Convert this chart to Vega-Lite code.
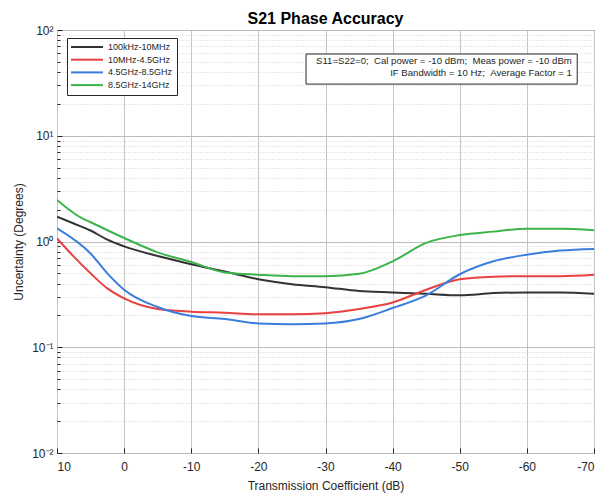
{
  "$schema": "https://vega.github.io/schema/vega-lite/v6.json",
  "width": 537,
  "height": 423,
  "autosize": {"type": "none"},
  "padding": {"left": 57, "top": 30, "right": 11, "bottom": 42},
  "background": "white",
  "config": {"view": {"stroke": "#262626", "strokeWidth": 1}, "font": "Liberation Sans"},
  "title": {"text": "S21 Phase Accuracy", "fontSize": 16, "font": "Liberation Sans", "fontWeight": "bold", "color": "#000", "offset": -3, "frame": "group"},
  "datasets": {
    "curves": [
      {"db": 10, "u": 1.72, "band": "100kHz-10MHz"},
      {"db": 7.5, "u": 1.48, "band": "100kHz-10MHz"},
      {"db": 5, "u": 1.27, "band": "100kHz-10MHz"},
      {"db": 2.5, "u": 1.04, "band": "100kHz-10MHz"},
      {"db": 0, "u": 0.90, "band": "100kHz-10MHz"},
      {"db": -5, "u": 0.73, "band": "100kHz-10MHz"},
      {"db": -10, "u": 0.61, "band": "100kHz-10MHz"},
      {"db": -15, "u": 0.52, "band": "100kHz-10MHz"},
      {"db": -20, "u": 0.44, "band": "100kHz-10MHz"},
      {"db": -25, "u": 0.395, "band": "100kHz-10MHz"},
      {"db": -30, "u": 0.37, "band": "100kHz-10MHz"},
      {"db": -35, "u": 0.34, "band": "100kHz-10MHz"},
      {"db": -40, "u": 0.33, "band": "100kHz-10MHz"},
      {"db": -45, "u": 0.32, "band": "100kHz-10MHz"},
      {"db": -50, "u": 0.31, "band": "100kHz-10MHz"},
      {"db": -55, "u": 0.325, "band": "100kHz-10MHz"},
      {"db": -60, "u": 0.33, "band": "100kHz-10MHz"},
      {"db": -65, "u": 0.33, "band": "100kHz-10MHz"},
      {"db": -70, "u": 0.32, "band": "100kHz-10MHz"},
      {"db": 10, "u": 1.07, "band": "10MHz-4.5GHz"},
      {"db": 7.5, "u": 0.72, "band": "10MHz-4.5GHz"},
      {"db": 5, "u": 0.50, "band": "10MHz-4.5GHz"},
      {"db": 2.5, "u": 0.36, "band": "10MHz-4.5GHz"},
      {"db": 0, "u": 0.29, "band": "10MHz-4.5GHz"},
      {"db": -5, "u": 0.23, "band": "10MHz-4.5GHz"},
      {"db": -10, "u": 0.217, "band": "10MHz-4.5GHz"},
      {"db": -15, "u": 0.212, "band": "10MHz-4.5GHz"},
      {"db": -20, "u": 0.205, "band": "10MHz-4.5GHz"},
      {"db": -25, "u": 0.205, "band": "10MHz-4.5GHz"},
      {"db": -30, "u": 0.21, "band": "10MHz-4.5GHz"},
      {"db": -35, "u": 0.23, "band": "10MHz-4.5GHz"},
      {"db": -40, "u": 0.265, "band": "10MHz-4.5GHz"},
      {"db": -45, "u": 0.35, "band": "10MHz-4.5GHz"},
      {"db": -50, "u": 0.44, "band": "10MHz-4.5GHz"},
      {"db": -55, "u": 0.465, "band": "10MHz-4.5GHz"},
      {"db": -60, "u": 0.47, "band": "10MHz-4.5GHz"},
      {"db": -65, "u": 0.47, "band": "10MHz-4.5GHz"},
      {"db": -70, "u": 0.485, "band": "10MHz-4.5GHz"},
      {"db": 10, "u": 1.33, "band": "4.5GHz-8.5GHz"},
      {"db": 5, "u": 0.77, "band": "4.5GHz-8.5GHz"},
      {"db": 2.5, "u": 0.50, "band": "4.5GHz-8.5GHz"},
      {"db": 0, "u": 0.35, "band": "4.5GHz-8.5GHz"},
      {"db": -5, "u": 0.24, "band": "4.5GHz-8.5GHz"},
      {"db": -10, "u": 0.197, "band": "4.5GHz-8.5GHz"},
      {"db": -15, "u": 0.185, "band": "4.5GHz-8.5GHz"},
      {"db": -20, "u": 0.168, "band": "4.5GHz-8.5GHz"},
      {"db": -25, "u": 0.165, "band": "4.5GHz-8.5GHz"},
      {"db": -30, "u": 0.168, "band": "4.5GHz-8.5GHz"},
      {"db": -35, "u": 0.185, "band": "4.5GHz-8.5GHz"},
      {"db": -40, "u": 0.235, "band": "4.5GHz-8.5GHz"},
      {"db": -45, "u": 0.31, "band": "4.5GHz-8.5GHz"},
      {"db": -50, "u": 0.49, "band": "4.5GHz-8.5GHz"},
      {"db": -55, "u": 0.65, "band": "4.5GHz-8.5GHz"},
      {"db": -60, "u": 0.75, "band": "4.5GHz-8.5GHz"},
      {"db": -65, "u": 0.82, "band": "4.5GHz-8.5GHz"},
      {"db": -70, "u": 0.85, "band": "4.5GHz-8.5GHz"},
      {"db": 10, "u": 2.47, "band": "8.5GHz-14GHz"},
      {"db": 6.3, "u": 1.66, "band": "8.5GHz-14GHz"},
      {"db": 5, "u": 1.52, "band": "8.5GHz-14GHz"},
      {"db": 0, "u": 1.08, "band": "8.5GHz-14GHz"},
      {"db": -5, "u": 0.79, "band": "8.5GHz-14GHz"},
      {"db": -10, "u": 0.64, "band": "8.5GHz-14GHz"},
      {"db": -15, "u": 0.51, "band": "8.5GHz-14GHz"},
      {"db": -20, "u": 0.485, "band": "8.5GHz-14GHz"},
      {"db": -25, "u": 0.47, "band": "8.5GHz-14GHz"},
      {"db": -30, "u": 0.47, "band": "8.5GHz-14GHz"},
      {"db": -35, "u": 0.495, "band": "8.5GHz-14GHz"},
      {"db": -40, "u": 0.65, "band": "8.5GHz-14GHz"},
      {"db": -45, "u": 0.97, "band": "8.5GHz-14GHz"},
      {"db": -50, "u": 1.15, "band": "8.5GHz-14GHz"},
      {"db": -55, "u": 1.24, "band": "8.5GHz-14GHz"},
      {"db": -60, "u": 1.32, "band": "8.5GHz-14GHz"},
      {"db": -65, "u": 1.32, "band": "8.5GHz-14GHz"},
      {"db": -70, "u": 1.28, "band": "8.5GHz-14GHz"}
    ],
    "box": [{"x1": -27.1, "x2": -67.5, "y1": 59.3, "y2": 30.8}],
    "notes": [
      {"x": -66.7, "y": 50.9, "t": "S11=S22=0; \u00a0Cal power = -10 dBm; \u00a0Meas power = -10 dBm"},
      {"x": -66.7, "y": 39.6, "t": "IF Bandwidth = 10 Hz; \u00a0Average Factor = 1"}
    ]
  },
  "layer": [
    {
      "data": {"name": "curves"},
      "mark": {"type": "line", "strokeWidth": 2, "interpolate": "monotone", "clip": true},
      "encoding": {
        "x": {
          "field": "db", "type": "quantitative",
          "scale": {"domain": [-70, 10], "reverse": true, "nice": false, "zero": false},
          "axis": {
            "values": [10, 0, -10, -20, -30, -40, -50, -60, -70],
            "labelExpr": "'' + datum.value",
            "title": "Transmission Coefficient (dB)",
            "titleFontSize": 12, "titleFontWeight": "normal", "titleColor": "#262626", "titlePadding": 8,
            "labelFontSize": 12, "labelColor": "#262626", "labelPadding": 13,
            "grid": true, "gridColor": "#c4c4c4", "gridWidth": 1,
            "domain": false, "ticks": true, "tickSize": -5, "tickColor": "#262626"
          }
        },
        "y": {
          "field": "u", "type": "quantitative",
          "scale": {"type": "log", "domain": [0.01, 100], "nice": false},
          "axis": {
            "values": [0.01, 0.02, 0.03, 0.04, 0.05, 0.06, 0.07, 0.08, 0.09, 0.1, 0.2, 0.3, 0.4, 0.5, 0.6, 0.7, 0.8, 0.9, 1, 2, 3, 4, 5, 6, 7, 8, 9, 10, 20, 30, 40, 50, 60, 70, 80, 90, 100],
            "labelExpr": "datum.value == 100 ? '10²' : datum.value == 10 ? '10¹' : datum.value == 1 ? '10⁰' : datum.value == 0.1 ? '10⁻¹' : datum.value == 0.01 ? '10⁻²' : ''",
            "title": "Uncertainty (Degrees)",
            "titleFontSize": 12, "titleFontWeight": "normal", "titleColor": "#262626", "titlePadding": 6,
            "labelFontSize": 12, "labelColor": "#262626", "labelPadding": 9,
            "grid": true,
            "gridColor": {"condition": {"test": "indexof([0.01,0.1,1,10,100], datum.value) >= 0", "value": "#bdbdbd"}, "value": "#d0d0d0"},
            "gridDash": {"condition": {"test": "indexof([0.01,0.1,1,10,100], datum.value) >= 0", "value": []}, "value": [1, 2]},
            "domain": false, "ticks": true, "tickColor": "#262626",
            "tickSize": {"condition": {"test": "indexof([0.01,0.1,1,10,100], datum.value) >= 0", "value": -5}, "value": -3}
          }
        },
        "color": {
          "field": "band", "type": "nominal",
          "scale": {"domain": ["100kHz-10MHz", "10MHz-4.5GHz", "4.5GHz-8.5GHz", "8.5GHz-14GHz"], "range": ["#333333", "#e8413f", "#3b7ddd", "#3cb44b"]},
          "legend": {
            "orient": "none", "legendX": 10, "legendY": 8, "title": null,
            "fillColor": "white", "strokeColor": "#262626", "padding": 4, "cornerRadius": 0,
            "symbolType": "M-4,0H4", "symbolSize": 64, "symbolStrokeWidth": 2, "symbolOffset": 11,
            "labelFontSize": 9, "labelColor": "#262626", "labelOffset": 16, "rowPadding": 2.7
          }
        }
      }
    },
    {
      "data": {"name": "box"},
      "mark": {"type": "rect", "fill": "white", "stroke": "#262626", "strokeWidth": 1},
      "encoding": {
        "x": {"field": "x1", "type": "quantitative", "scale": {"domain": [-70, 10], "reverse": true, "nice": false, "zero": false}},
        "x2": {"field": "x2"},
        "y": {"field": "y1", "type": "quantitative", "scale": {"type": "log", "domain": [0.01, 100], "nice": false}},
        "y2": {"field": "y2"}
      }
    },
    {
      "data": {"name": "notes"},
      "mark": {"type": "text", "align": "right", "baseline": "middle", "fontSize": 9.6, "color": "#262626"},
      "encoding": {
        "x": {"field": "x", "type": "quantitative", "scale": {"domain": [-70, 10], "reverse": true, "nice": false, "zero": false}},
        "y": {"field": "y", "type": "quantitative", "scale": {"type": "log", "domain": [0.01, 100], "nice": false}},
        "text": {"field": "t"}
      }
    }
  ]
}
